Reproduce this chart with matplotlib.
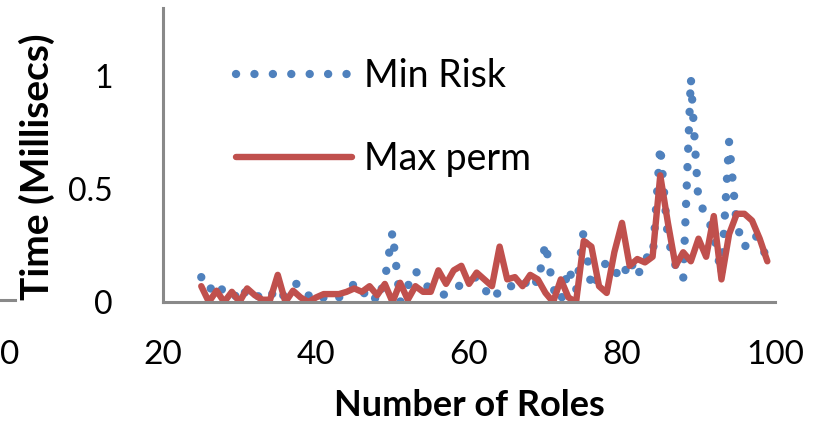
import numpy as np
import matplotlib
matplotlib.use("Agg")
import matplotlib.pyplot as plt
from matplotlib.lines import Line2D

plt.rcParams["font.family"] = ["Lato", "DejaVu Sans"]

# number of roles on the x axis, one sample per role count
roles = list(range(25, 100))

# query time in milliseconds
min_risk = [
    0.11, 0.05, 0.09, 0.04, 0.05, 0.00, 0.06, 0.03, 0.02, 0.05,   # 25-34
    0.00, 0.04, 0.08, 0.08, 0.03, 0.00, 0.02, 0.00, 0.02, 0.05,   # 35-44
    0.08, 0.03, 0.06, 0.00, 0.10, 0.31, 0.00, 0.07, 0.14, 0.08,   # 45-54
    0.06, 0.04, 0.03, 0.05, 0.08, 0.10, 0.11, 0.06, 0.01, 0.05,   # 55-64
    0.08, 0.06, 0.06, 0.12, 0.08, 0.26, 0.06, 0.00, 0.15, 0.05,   # 65-74
    0.32, 0.06, 0.12, 0.18, 0.14, 0.10, 0.19, 0.11, 0.20, 0.19,   # 75-84
    0.69, 0.28, 0.16, 0.10, 0.99, 0.44, 0.39, 0.30, 0.12, 0.71,   # 85-94
    0.34, 0.24, 0.30, 0.28, 0.18,                                 # 95-99
]
max_perm = [
    0.07, 0.00, 0.05, 0.00, 0.045, 0.00, 0.06, 0.03, 0.01, 0.01,  # 25-34
    0.12, 0.00, 0.05, 0.02, 0.00, 0.02, 0.035, 0.035, 0.035, 0.045,  # 35-44
    0.06, 0.045, 0.07, 0.03, 0.08, 0.00, 0.085, 0.01, 0.07, 0.045,   # 45-54
    0.045, 0.14, 0.08, 0.14, 0.16, 0.08, 0.13, 0.10, 0.07, 0.245,    # 55-64
    0.10, 0.11, 0.07, 0.12, 0.10, 0.04, 0.00, 0.10, 0.02, 0.00,      # 65-74
    0.27, 0.245, 0.07, 0.04, 0.22, 0.35, 0.16, 0.19, 0.175, 0.20,    # 75-84
    0.56, 0.35, 0.16, 0.22, 0.18, 0.28, 0.20, 0.38, 0.10, 0.30,      # 85-94
    0.39, 0.39, 0.36, 0.28, 0.18,                                    # 95-99
]

x_ticks = [20, 40, 60, 80, 100]
y_ticks = [0, 0.5, 1]
y_ticklabels = ["0", "0.5", "1"]

BLUE = "#4F81BD"
RED = "#C0504D"
AXIS_GREY = "#898989"

W, H = 815, 430
fig = plt.figure(figsize=(W / 100, H / 100), dpi=100)
ax = fig.add_axes([163 / W, 1 - 302 / H, (775 - 163) / W, (302 - 8) / H])

# round-dot series, then the solid one drawn over it
ax.plot(roles, min_risk, color=BLUE, lw=6.0, linestyle=(0, (0.01, 2.2)),
        dash_capstyle="round", label="Min Risk")
ax.plot(roles, max_perm, color=RED, lw=4.6, solid_joinstyle="round",
        solid_capstyle="round", label="Max perm")

ax.set_xlim(20, 100)
ax.set_ylim(0, 1.3)
ax.set_xticks(x_ticks)
ax.set_xticklabels([str(t) for t in x_ticks], fontsize=24)
ax.set_yticks(y_ticks)
ax.set_yticklabels(y_ticklabels, fontsize=23)
ax.tick_params(axis="x", length=0, pad=27)
ax.tick_params(axis="y", length=0, pad=36)

for side in ("top", "right"):
    ax.spines[side].set_visible(False)
for side in ("left", "bottom"):
    ax.spines[side].set_color(AXIS_GREY)
    ax.spines[side].set_linewidth(2.2)

fig.text(37 / W, 1 - 167 / H, "Time (Millisecs)", rotation=90, fontsize=28,
         fontweight="bold", ha="center", va="center")
fig.text(469 / W, 1 - 405 / H, "Number of Roles", fontsize=26,
         fontweight="bold", ha="center", va="center")

ax.legend(loc="upper left", bbox_to_anchor=(236 / W, 1 - 58 / H),
          bbox_transform=fig.transFigure, frameon=False, fontsize=27,
          handlelength=3.1, handletextpad=0.3, labelspacing=1.25,
          borderaxespad=0, borderpad=0)

# edge of the neighbouring panel on the left
fig.add_artist(Line2D([0, 15 / W], [1 - 300 / H, 1 - 300 / H],
                      color=AXIS_GREY, lw=2.2))
fig.text(0, 1 - 355 / H, "0", fontsize=24, ha="left", va="center")

fig.savefig("out.png", dpi=100)
